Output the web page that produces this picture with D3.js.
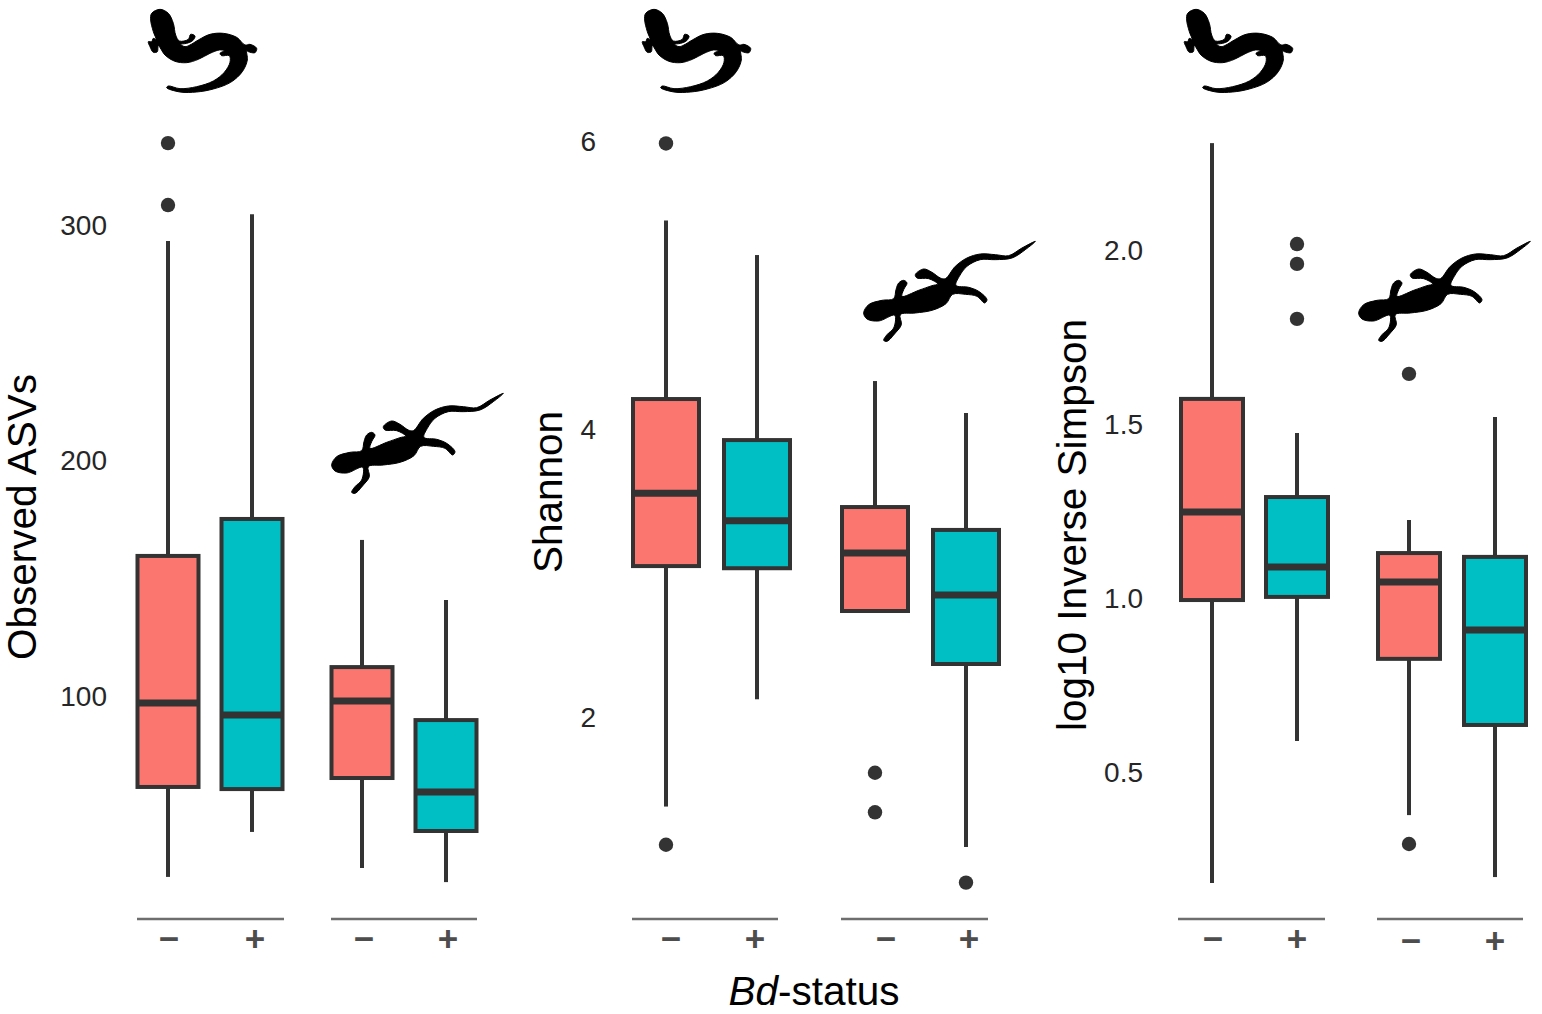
<!DOCTYPE html>
<html>
<head>
<meta charset="utf-8">
<script src="https://cdn.jsdelivr.net/npm/d3@7"></script>
<style>
html, body { margin: 0; padding: 0; background: #fff; }
svg { display: block; }
text { font-family: "Liberation Sans", Arial, sans-serif; }
</style>
</head>
<body>
<div id="chart"></div>
<script>
// values, order: salamander -, salamander +, newt -, newt +
var bdStatus = ["\u2212", "+"];
var statusColor = ["#FC7670", "#00BFC4"];

var obsLow = [23.6, 42.7, 27.4, 21.4];
var obsQ1 = [61.8, 60.9, 65.6, 43.1];
var obsMedian = [97.5, 92.4, 98.3, 59.7];
var obsQ3 = [159.9, 175.6, 112.7, 90.2];
var obsHigh = [293.6, 305, 166.7, 141.2];
var obsOutliers = [[335.2, 308.9], [], [], []];
var obsTicks = [100, 200, 300];

var shanLow = [1.385, 2.13, null, 1.104];
var shanQ1 = [3.055, 3.04, 2.743, 2.375];
var shanMedian = [3.56, 3.37, 3.146, 2.854];
var shanQ3 = [4.215, 3.93, 3.465, 3.306];
var shanHigh = [5.455, 5.215, 4.34, 4.118];
var shanOutliers = [[5.99, 1.12], [], [1.62, 1.345], [0.857]];
var shanTicks = [2, 4, 6];

var simpLow = [0.184, 0.592, 0.379, 0.201];
var simpQ1 = [0.997, 1.006, 0.828, 0.638];
var simpMedian = [1.25, 1.092, 1.049, 0.911];
var simpQ3 = [1.575, 1.293, 1.132, 1.121];
var simpHigh = [2.31, 1.477, 1.227, 1.523];
var simpOutliers = [[], [2.02, 1.963, 1.805], [1.647, 0.296], []];
var simpTicks = [0.5, 1, 1.5, 2];

// layout of the three panels
var panels = [
    { title: "Observed ASVs", low: obsLow, q1: obsQ1, med: obsMedian, q3: obsQ3, high: obsHigh, out: obsOutliers,
      ticks: obsTicks, fmt: "d", domain: [100, 300], range: [697, 226], tickRight: 107, titleX: 36, titleY: 517,
      centers: [[168, 252], [362, 446]], boxW: 61, axes: [[137, 284], [331, 477]], labels: [[169, 255], [364, 448]], labelY: [939, 939] },
    { title: "Shannon", low: shanLow, q1: shanQ1, med: shanMedian, q3: shanQ3, high: shanHigh, out: shanOutliers,
      ticks: shanTicks, fmt: "d", domain: [2, 6], range: [718, 142], tickRight: 596, titleX: 562, titleY: 492,
      centers: [[666, 757], [875, 966]], boxW: 66, axes: [[632, 778], [841, 988]], labels: [[671, 755], [886, 969]], labelY: [939, 939] },
    { title: "log10 Inverse Simpson", low: simpLow, q1: simpQ1, med: simpMedian, q3: simpQ3, high: simpHigh, out: simpOutliers,
      ticks: simpTicks, fmt: ".1f", domain: [0.5, 2], range: [773, 251], tickRight: 1143, titleX: 1086, titleY: 525,
      centers: [[1212, 1297], [1409, 1495]], boxW: 62, axes: [[1178, 1325], [1377, 1523]], labels: [[1213, 1297], [1411, 1495]], labelY: [939, 941] }
];

// silhouettes, traced by hand
var salamanderShape = [[90,28],[115,40],[130,70],[137,105],[148,123],[175,118],[182,103],[195,108],[188,122],[170,130],[152,133],[165,140],[180,135],[205,120],[240,103],[280,100],[320,112],[345,135],[360,133],[380,145],[375,158],[355,155],[350,152],[352,180],[337,215],[302,247],[250,267],[200,276],[150,276],[110,263],[115,258],[150,266],[200,260],[250,243],[283,217],[300,187],[298,167],[275,167],[270,160],[283,152],[268,150],[240,160],[205,178],[170,188],[135,184],[105,165],[85,137],[82,155],[70,157],[60,140],[55,125],[65,125],[70,115],[78,118],[70,95],[62,60],[65,40]];
var newtShape = [[35,240],[50,215],[90,202],[125,197],[132,170],[140,150],[155,142],[165,150],[155,170],[150,190],[200,172],[240,158],[257,153],[230,137],[195,135],[190,125],[215,108],[240,118],[265,135],[280,137],[310,100],[345,75],[385,63],[430,65],[470,68],[510,45],[550,25],[520,50],[480,75],[430,80],[385,80],[345,100],[322,130],[312,157],[350,163],[380,175],[405,200],[398,210],[375,190],[340,184],[302,184],[282,212],[240,232],[190,240],[145,245],[148,275],[130,300],[105,325],[95,322],[105,305],[125,285],[128,247],[80,264],[45,258]];
var salamanderAt = [[130, 0], [624, 0], [1166, 0]];
var newtAt = [[320, 385], [852, 233], [1347, 233]];

var svg = d3.select("#chart").append("svg").attr("width", 1542).attr("height", 1014);
svg.append("rect").attr("width", 1542).attr("height", 1014).attr("fill", "#fff");

var stroke = "#333333";

panels.forEach(function (p) {
    var g = svg.append("g");
    var y = d3.scaleLinear().domain(p.domain).range(p.range);

    var yAxis = d3.axisLeft(y).tickValues(p.ticks).tickFormat(d3.format(p.fmt)).tickSize(0).tickPadding(0).offset(0);
    var yG = g.append("g").attr("transform", "translate(" + p.tickRight + ",0)").call(yAxis);
    yG.select(".domain").remove();
    yG.selectAll("text").attr("font-size", 28).attr("font-family", "Liberation Sans").attr("fill", "#262626");

    g.append("text")
        .attr("transform", "translate(" + p.titleX + "," + p.titleY + ") rotate(-90)")
        .attr("text-anchor", "middle")
        .attr("font-size", 40.5)
        .attr("fill", "#000")
        .text(p.title);

    p.centers.forEach(function (c, f) {
        var x = d3.scalePoint().domain(bdStatus).range(c);
        var first = f * 2;

        bdStatus.forEach(function (s, i) {
            var k = first + i;
            var cx = x(s);
            var box = g.append("g");

            box.append("line").attr("x1", cx).attr("x2", cx).attr("y1", y(p.high[k])).attr("y2", y(p.q3[k]))
                .attr("stroke", stroke).attr("stroke-width", 4);
            if (p.low[k] !== null) {
                box.append("line").attr("x1", cx).attr("x2", cx).attr("y1", y(p.q1[k])).attr("y2", y(p.low[k]))
                    .attr("stroke", stroke).attr("stroke-width", 4);
            }
            box.append("rect")
                .attr("x", cx - p.boxW / 2)
                .attr("width", p.boxW)
                .attr("y", y(p.q3[k]))
                .attr("height", y(p.q1[k]) - y(p.q3[k]))
                .attr("fill", statusColor[i])
                .attr("stroke", stroke)
                .attr("stroke-width", 4);
            box.append("line").attr("x1", cx - p.boxW / 2).attr("x2", cx + p.boxW / 2).attr("y1", y(p.med[k])).attr("y2", y(p.med[k]))
                .attr("stroke", stroke).attr("stroke-width", 7);
            box.selectAll("circle").data(p.out[k]).enter().append("circle")
                .attr("cx", cx)
                .attr("cy", function (d) { return y(d); })
                .attr("r", 7.2)
                .attr("fill", stroke);
        });

        // sign labels do not sit exactly under the boxes in the figure
        var labelX = d3.scalePoint().domain(bdStatus).range(p.labels[f]);
        var xAxis = d3.axisBottom(labelX).tickSize(0).tickPadding(0).offset(0);
        var xG = g.append("g").attr("transform", "translate(0,919)").call(xAxis);
        xG.select(".domain")
            .attr("d", "M" + p.axes[f][0] + ",0H" + p.axes[f][1])
            .attr("stroke", "#6e6e6e")
            .attr("stroke-width", 2.4);
        xG.selectAll("text")
            .attr("y", p.labelY[f] - 919)
            .attr("dy", "0.34em")
            .attr("font-size", 35)
            .attr("font-weight", "bold")
            .attr("font-family", "Liberation Sans")
            .attr("fill", "#4d4d4d");
    });
});

// x title, Bd is in italics
var xTitle = svg.append("text")
    .attr("x", 814)
    .attr("y", 1005)
    .attr("text-anchor", "middle")
    .attr("font-size", 40.5)
    .attr("fill", "#000");
xTitle.append("tspan").attr("font-style", "italic").text("Bd");
xTitle.append("tspan").text("-status");

var outline = d3.line().curve(d3.curveCatmullRomClosed.alpha(0.5));
function drawAnimal(shape, spots) {
    svg.selectAll(null).data(spots).enter().append("path")
        .attr("d", outline(shape))
        .attr("transform", function (d) { return "translate(" + d[0] + "," + d[1] + ") scale(0.3333)"; })
        .attr("fill", "#000")
        .attr("stroke", "#000")
        .attr("stroke-width", 3)
        .attr("stroke-linejoin", "round");
}
drawAnimal(salamanderShape, salamanderAt);
drawAnimal(newtShape, newtAt);
</script>
</body>
</html>
